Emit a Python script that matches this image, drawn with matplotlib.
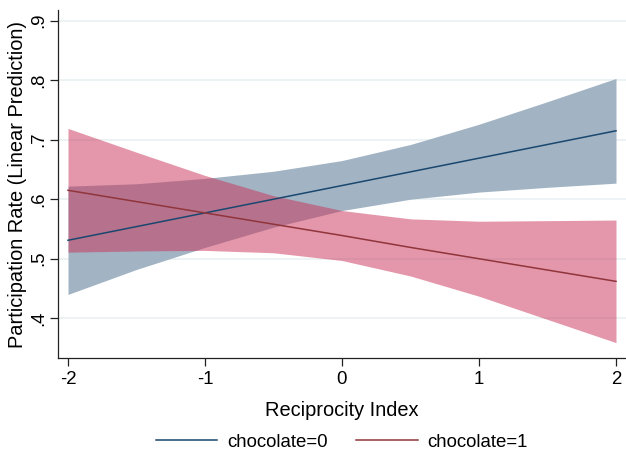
import matplotlib
matplotlib.use("Agg")
import matplotlib.pyplot as plt
from matplotlib.lines import Line2D

plt.rcParams['font.family'] = ['Liberation Sans', 'DejaVu Sans']

# Data (marginsplot, linear prediction with 95% CI)
recip = [-2, -1.5, -1, -0.5, 0, 0.5, 1, 1.5, 2]

choc0_mean = [0.531, 0.554, 0.577, 0.600, 0.623, 0.646, 0.669, 0.692, 0.715]
choc0_lo   = [0.440, 0.482, 0.519, 0.553, 0.581, 0.600, 0.612, 0.620, 0.627]
choc0_hi   = [0.622, 0.626, 0.635, 0.647, 0.665, 0.692, 0.726, 0.764, 0.803]

choc1_mean = [0.615, 0.596, 0.577, 0.558, 0.539, 0.519, 0.500, 0.481, 0.462]
choc1_lo   = [0.511, 0.513, 0.514, 0.510, 0.497, 0.471, 0.437, 0.398, 0.359]
choc1_hi   = [0.719, 0.679, 0.640, 0.606, 0.581, 0.567, 0.563, 0.564, 0.565]

xticks = [-2, -1, 0, 1, 2]
yticks = [0.4, 0.5, 0.6, 0.7, 0.8, 0.9]
ytick_labels = ['.4', '.5', '.6', '.7', '.8', '.9']
series_labels = ['chocolate=0', 'chocolate=1']

W, H = 626, 453
fig = plt.figure(figsize=(W / 100, H / 100), dpi=100)
ax_left, ax_right, ax_top, ax_bottom = 57.7, 626, 10, 358.3
ax = fig.add_axes([ax_left / W, 1 - ax_bottom / H, (ax_right - ax_left) / W, (ax_bottom - ax_top) / H])

navy = (26 / 255, 71 / 255, 111 / 255)
maroon = (144 / 255, 53 / 255, 59 / 255)
blue_fill = (162 / 255, 180 / 255, 196 / 255)
pink_fill = (203 / 255, 49 / 255, 87 / 255)

for y in yticks:
    ax.axhline(y, color='#E8F0F1', lw=1.1, zorder=0)

ax.fill_between(recip, choc0_lo, choc0_hi, color=blue_fill, lw=0, zorder=1)
ax.fill_between(recip, choc1_lo, choc1_hi, color=pink_fill, alpha=0.5, lw=0, zorder=2)
ax.plot(recip, choc0_mean, color=navy, lw=1.1, zorder=3)
ax.plot(recip, choc1_mean, color=maroon, lw=1.1, zorder=3)

x_per_px = 1 / 137.0
ax.set_xlim(-2 - (68 - ax_left) * x_per_px, -2 + (ax_right - 68) * x_per_px)
y_per_px = 0.1 / 59.4
ax.set_ylim(0.4 - (ax_bottom - 318.3) * y_per_px, 0.9 + (20.7 - ax_top) * y_per_px)

ax.set_xticks(xticks)
ax.set_xticklabels([str(t) for t in xticks])
ax.set_yticks(yticks)
ax.set_yticklabels(ytick_labels, rotation=90, va='center')

for s in ['top', 'right']:
    ax.spines[s].set_visible(False)
for s in ['left', 'bottom']:
    ax.spines[s].set_color('#222222')
    ax.spines[s].set_linewidth(0.9)

ax.tick_params(axis='x', length=5.5, width=0.9, color='#222222', labelsize=13.4, pad=4)
ax.tick_params(axis='y', length=5.5, width=0.9, color='#222222', labelsize=13.4, pad=2)

fig.text(342 / W, 1 - 411 / H, 'Reciprocity Index', ha='center', va='center', fontsize=14.4)
fig.text(18 / W, 1 - 184 / H, 'Participation Rate (Linear Prediction)', ha='center', va='center',
         rotation=90, fontsize=14.4)

handles = [Line2D([], [], color=navy, lw=1.1), Line2D([], [], color=maroon, lw=1.1)]
fig.legend(handles, series_labels, loc='center', bbox_to_anchor=(342 / W, 1 - 442 / H), ncol=2,
           frameon=False, fontsize=13.4, handlelength=3.3, handletextpad=0.55, columnspacing=1.5,
           borderaxespad=0, borderpad=0)

fig.savefig('out.png', dpi=100)
